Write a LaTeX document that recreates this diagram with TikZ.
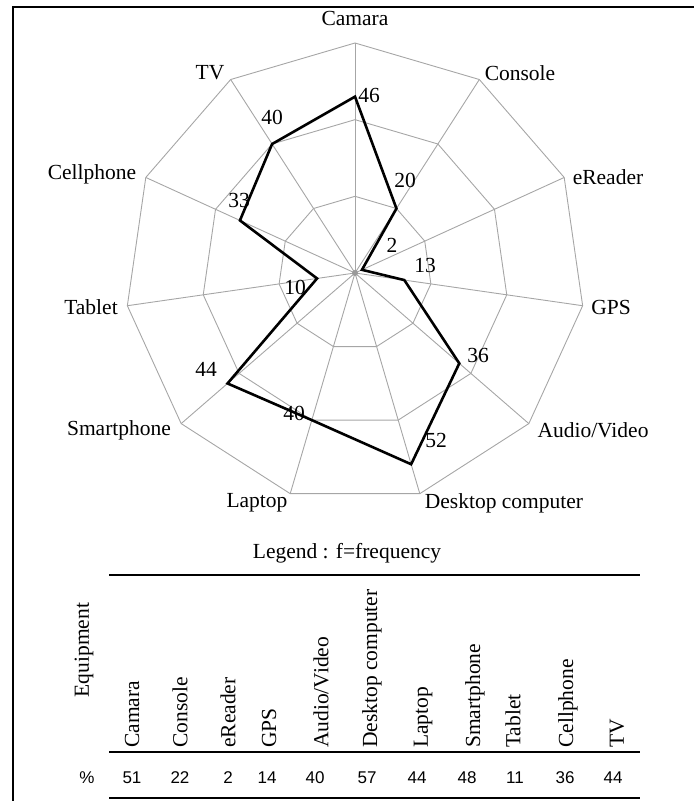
\documentclass[tikz,border=0pt]{standalone}
\usepackage{fontspec}
\setmainfont{Liberation Serif}
\newfontfamily\numfont{Liberation Sans}

\begin{document}
\begin{tikzpicture}[x=1pt, y=1pt, every node/.style={font=\fontsize{21.5}{24}\selectfont, inner sep=0pt}]
    \useasboundingbox (0,0) rectangle (694,801);
    % Frame
    \draw[line width=2pt] (13,0) -- (13,794) -- (694,794);

    \begin{scope}[shift={(355,528)}]
    % Origin Point
    \coordinate (O) at (0,0);
    % Rings
    \foreach \r in {76.67,153.33,230}
    {
        \draw[gray!70, line width=0.9pt] (90:\r) \foreach \k in {1,...,10} { -- (90-\k*360/11:\r) } -- cycle;
    }
    % Radial Lines
    \foreach \k in {0,...,10}
    {
        \draw[gray!70, line width=0.9pt] (O) -- (90-\k*360/11:230);
    }
    \fill[gray!80] (O) circle (3);
    % Data points, scale 0 to 60
    \foreach \v [count=\k from 0] in {46,20,2,13,36,52,40,44,10,33,40}
    {
        \coordinate (p\k) at (90-\k*360/11:\v*230/60);
    }
    \draw[line width=2.6pt] (p0) -- (p1) -- (p2) -- (p3) -- (p4) -- (p5) -- (p6) -- (p7) -- (p8) -- (p9) -- (p10) -- cycle;

    % Axis names
    \node (camara) at (0,255) {Camara};
    \node (console) at (165,200) {Console};
    \node (ereader) at (253,96) {eReader};
    \node (gps) at (256,-34) {GPS};
    \node (audio) at (238,-157) {Audio/Video};
    \node (desktop) at (149,-230) {Desktop computer};
    \node (laptop) at (-98,-230) {Laptop};
    \node (smart) at (-236,-157) {Smartphone};
    \node (tablet) at (-264,-34) {Tablet};
    \node (cell) at (-263,99) {Cellphone};
    \node (tv) at (-145,200) {TV};

    % Values
    \node (vcamara) at (14,178) {46};
    \node (vconsole) at (50,93) {20};
    \node (vereader) at (37,28) {2};
    \node (vgps) at (70,8) {13};
    \node (vaudio) at (123,-82) {36};
    \node (vdesktop) at (81,-167) {52};
    \node (vlaptop) at (-61,-140) {40};
    \node (vsmart) at (-149,-96) {44};
    \node (vtablet) at (-60,-14) {10};
    \node (vcell) at (-116,73) {33};
    \node (vtv) at (-83,156) {40};
    \end{scope}

    % Legend
    \node (legend) at (347,248) {Legend : f=frequency};

    % Table
    \draw[line width=1.5pt] (109,226) -- (640,226);
    \draw[line width=1.5pt] (109,49) -- (640,49);
    \draw[line width=1.5pt] (109,3) -- (640,3);
    \node[rotate=90] (equip) at (84,151) {Equipment};
    \foreach \x/\t [count=\i] in {132/Camara,180/Console,228/eReader,269/GPS,321/Audio\slash Video,372/Desktop computer,423/Laptop,475/Smartphone,513/Tablet,568/Cellphone,617/TV}
    {
        \node[rotate=90, anchor=west] (h\i) at (\x,53) {\t};
    }
    \node (pct) at (87,23) {\numfont\fontsize{17}{19}\selectfont\%};
    \foreach \x/\n [count=\i] in {132/51,180/22,228/2,267/14,315/40,367/57,417/44,467/48,515/11,565/36,613/44}
    {
        \node (n\i) at (\x,23) {\numfont\fontsize{17}{19}\selectfont\n};
    }
\end{tikzpicture}
\end{document}
